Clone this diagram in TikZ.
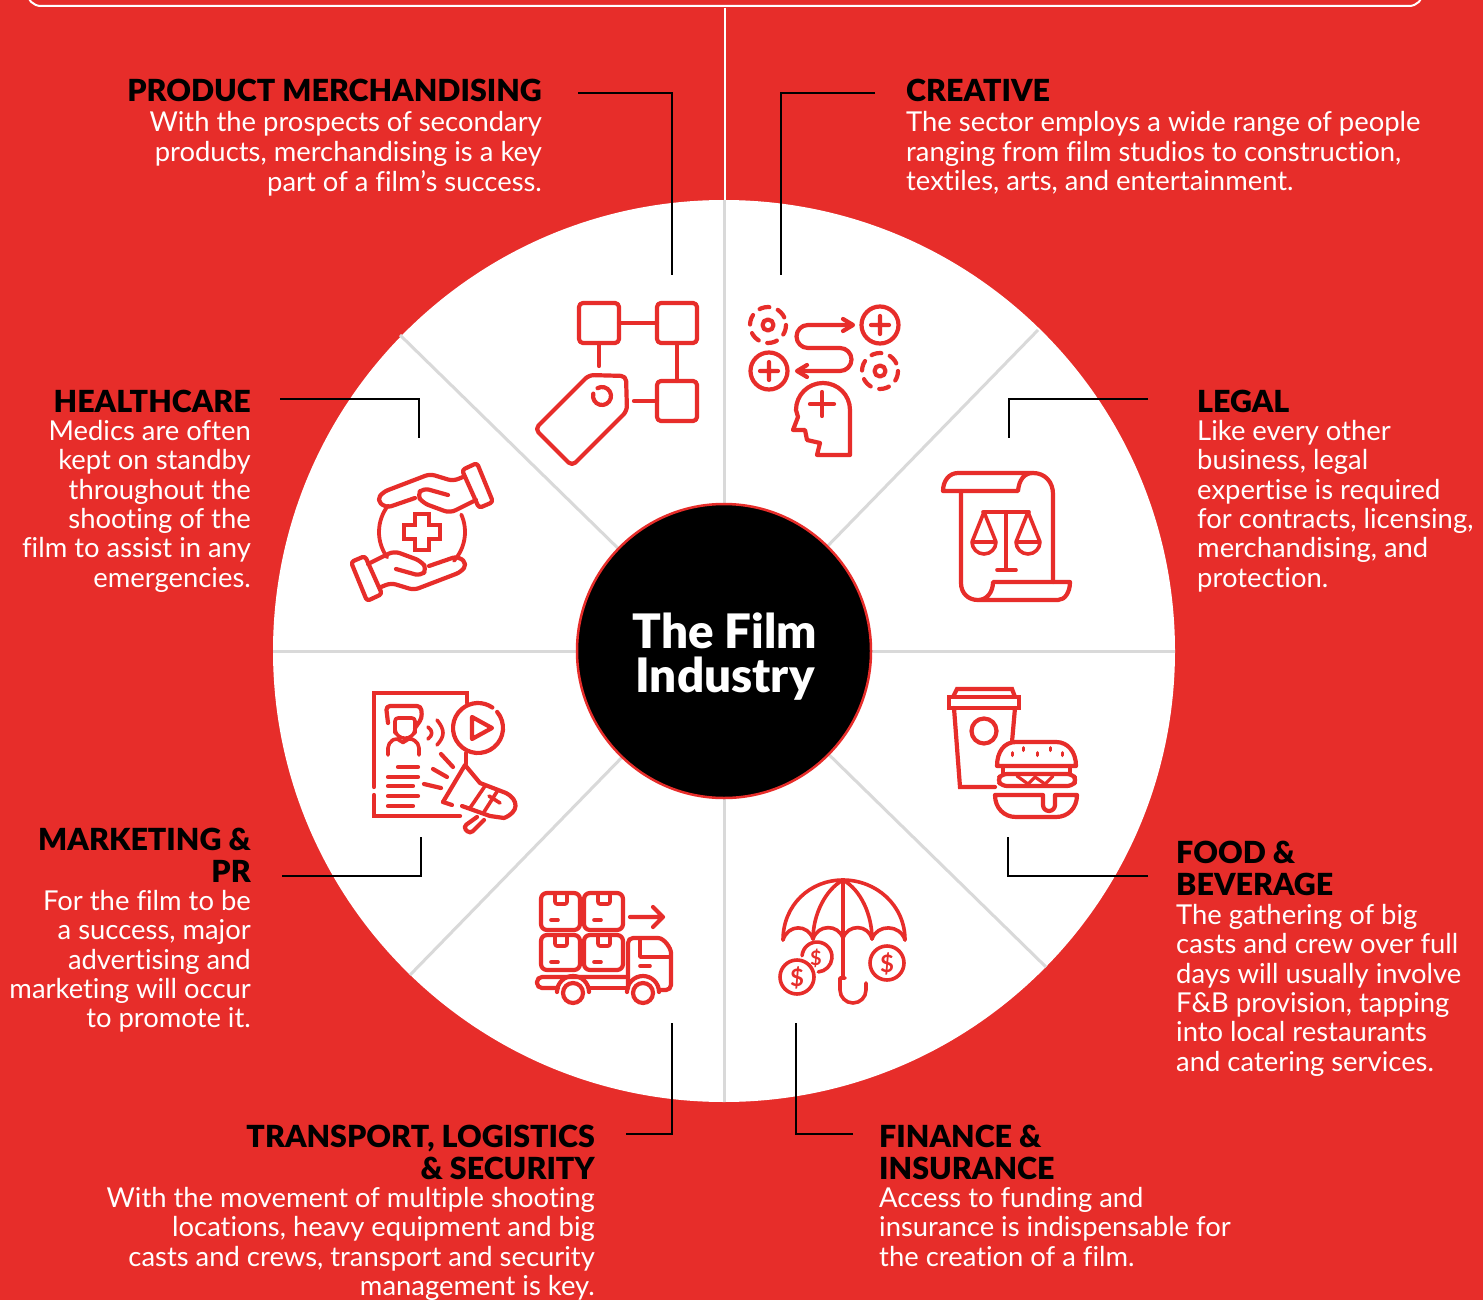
\documentclass[tikz,border=0pt]{standalone}
\usepackage{fontspec}
\setmainfont{Lato}[Ligatures=NoCommon]
\newfontfamily\heavyfont{Lato Black}[Ligatures=NoCommon]
\definecolor{filmred}{HTML}{E72D2A}
\definecolor{divgray}{HTML}{D9D9D9}
\newcommand{\bodyfont}{\fontsize{27.4}{29.3}\selectfont}
\newcommand{\titlefont}{\heavyfont\fontsize{30.4}{32}\selectfont}
\newcommand{\rblock}[1]{\begin{tabular}[t]{@{}r@{}}#1\end{tabular}}
\newcommand{\lblock}[1]{\begin{tabular}[t]{@{}l@{}}#1\end{tabular}}
\tikzset{
  ico/.style={draw=filmred,line width=4.2pt,line cap=round,line join=round},
  leader/.style={draw=black,line width=2.5pt},
  divider/.style={draw=divgray,line width=3pt},
  ttlR/.style={anchor=base east,inner sep=0pt,text=black,font=\titlefont},
  ttlL/.style={anchor=base west,inner sep=0pt,text=black,font=\titlefont},
  txtR/.style={anchor=base east,inner sep=0pt,text=white,font=\bodyfont},
  txtL/.style={anchor=base west,inner sep=0pt,text=white,font=\bodyfont},
  hubtxt/.style={anchor=base,inner sep=0pt,text=white,font=\heavyfont\fontsize{47.5}{44}\selectfont},
  dollar/.style={inner sep=0pt,text=filmred,font=\fontsize{24}{24}\selectfont\bfseries}
}
\begin{document}
\begin{tikzpicture}[x=1pt,y=-1pt]
\useasboundingbox (0,0) rectangle (1483,1300);
\fill[filmred] (0,0) rectangle (1483,1300);
% top frame
\begin{scope}
\clip (0,0) rectangle (1483,1300);
\draw[white,line width=2pt,rounded corners=14pt] (27,-40) -- (27,6) -- (1423,6) -- (1423,-40);
\end{scope}
\draw[white,line width=2pt] (724.5,8) -- (724.5,205);
% disc
\fill[white] (724,651) circle (451);
\draw[divider] (724.5,200) -- (724.5,1102);
\draw[divider] (273,651) -- (1175,651);
\draw[divider] (400,335) -- (1046,967);
\draw[divider] (1038,330) -- (410,975);
\node[circle,draw=filmred,line width=2.5pt,fill=black,minimum size=294pt,inner sep=0pt] (hub) at (724,651) {};
\node[hubtxt] (hubA) at (725,648) {The Film};
\node[hubtxt] (hubB) at (725,692) {Industry};

% ---------- product merchandising icon
\draw[ico,rounded corners=4pt] (579,303) rectangle (619,343);
\draw[ico,rounded corners=4pt] (657,303) rectangle (697,343);
\draw[ico,rounded corners=4pt] (657,381) rectangle (697,421);
\draw[ico] (619,323) -- (657,323) (599,343) -- (599,366) (677,343) -- (677,381) (634,401) -- (657,401);
\draw[ico,rounded corners=5pt] (589,375) -- (626,376) -- (627,411) -- (572,466) -- (535,429) -- cycle;
\draw[ico] (602,396) ++(-120:9) arc[start angle=-120,end angle=195,radius=9];

% ---------- creative icon
\draw[ico,dash pattern=on 10pt off 9pt] (768,325) circle (18);
\draw[ico] (768,325) circle (5.5);
\draw[ico,dash pattern=on 10pt off 9pt] (880,371) circle (18);
\draw[ico] (880,371) circle (5.5);
\draw[ico] (880,325) circle (18.5) (871,325) -- (889,325) (880,316) -- (880,334);
\draw[ico] (769,371) circle (18.5) (760,371) -- (778,371) (769,362) -- (769,380);
\draw[ico] (851,325) -- (808,325) arc[start angle=270,end angle=90,radius=11.5] -- (840,348) arc[start angle=-90,end angle=90,radius=11.5] -- (798,371);
\draw[ico] (843,319) -- (853,325) -- (843,331);
\draw[ico] (807,365) -- (797,371) -- (807,377);
\draw[ico] (850,455) -- (850,410) arc[start angle=0,end angle=-180,radius=27] -- (798,417) -- (793,430) -- (805,430) -- (807,440) -- (820,443) -- (817,455) -- cycle;
\draw[ico] (810,404) -- (834,404) (822,392) -- (822,416);

% ---------- healthcare icon
\draw[ico,line width=3.8pt] (422,532) ++(144:43) arc[start angle=144,end angle=218,radius=43];
\draw[ico,line width=3.8pt] (422,532) ++(-24:43) arc[start angle=-24,end angle=42,radius=43];
\draw[ico,line width=3.8pt,line join=miter] (415,514) -- (429,514) -- (429,525) -- (440,525) -- (440,539) -- (429,539) -- (429,550) -- (415,550) -- (415,539) -- (404,539) -- (404,525) -- (415,525) -- cycle;
\foreach \rr in {0,180}{
\begin{scope}[rotate around={\rr:(422,532)}]
\draw[ico,rounded corners=3pt] (462,470) -- (477,463) -- (493,502) -- (479,508) -- cycle;
\draw[ico,rounded corners=5pt] (463,477) -- (453,481) -- (430,474) -- (383,492) -- (377,500) -- (386,508) -- (415,498);
\draw[ico,rounded corners=6pt] (448,495) -- (423,488) -- (417,495) -- (423,503) -- (450,513) -- (476,500);
\end{scope}}

% ---------- legal icon
\draw[ico] (943,491) -- (1018,491) .. controls (1019,480) and (1024,473) .. (1033,473) -- (958,473) .. controls (949,473) and (943,481) .. (943,491);
\draw[ico] (1033,473) .. controls (1045,473) and (1053,482) .. (1053,494) -- (1053,582);
\draw[ico] (961,491) -- (961,583) .. controls (961,593) and (968,600) .. (978,600) -- (1058,600) .. controls (1065,600) and (1070,592) .. (1070,582) -- (993,582) .. controls (993,592) and (987,600) .. (978,600);
\draw[ico,line width=3.6pt] (983,512) -- (1029,512) (1006,512) -- (1006,570) (997,570) -- (1016,570);
\draw[ico,line width=3.6pt] (972,542) -- (984,512) -- (996,542) -- cycle (972,542) arc[start angle=180,end angle=0,radius=12];
\draw[ico,line width=3.6pt] (1016,542) -- (1028,512) -- (1040,542) -- cycle (1016,542) arc[start angle=180,end angle=0,radius=12];

% ---------- marketing icon
\draw[ico,line join=miter] (467,703) -- (467,693) -- (374,693) -- (374,787);
\draw[ico,line join=miter] (374,795) -- (374,816) -- (460,816);
\draw[ico] (478,728) ++(-40:25) arc[start angle=-40,end angle=305,radius=25];
\draw[ico] (466,753) -- (466,764);
\draw[ico] (472,717) -- (492,728) -- (472,739) -- cycle;
\draw[ico,rounded corners=4pt] (388,723) -- (386,706) -- (421,706) -- (422,718) -- (415,728);
\draw[ico,line width=3.6pt,rounded corners=3pt] (395,733) -- (395,718) -- (415,718) -- (415,733);
\draw[ico,line width=3.6pt] (395,730) .. controls (397,741) and (413,741) .. (415,730);
\draw[ico,line width=3.6pt,rounded corners=5pt] (388,755) -- (388,743) -- (398,737) -- (403,745) -- (408,737) -- (419,743) -- (419,755);
\draw[ico,line width=3.6pt] (428,727) .. controls (433,731) and (433,735) .. (428,739);
\draw[ico,line width=3.6pt] (437,720) .. controls (445,730) and (445,736) .. (437,745);
\draw[ico] (398,767) -- (418,767) (388,777) -- (418,777) (388,786) -- (413,786) (388,796) -- (418,796) (388,806) -- (413,806);
\draw[ico] (441,754) -- (453,767) (433,769) -- (447,777) (424,784) -- (441,788);
\draw[ico] (443,802) -- (465,765) -- (480,783) -- (506,793) .. controls (519,800) and (519,812) .. (504,818) -- (490,816) -- (462,806);
\draw[ico] (443,802) -- (452,805);
\draw[ico,line width=3.6pt] (485,786) -- (470,808) (498,790) -- (484,812) (489,796) -- (500,803);
\draw[ico,rounded corners=4pt] (477,817) -- (463,827) -- (470,834) -- (484,820);

% ---------- food icon
\draw[ico,line join=miter] (953,697) -- (957,689) -- (1012,689) -- (1015,697);
\draw[ico,line join=miter] (949,697) rectangle (1019,708);
\draw[ico,line join=miter] (954,708) -- (960,787) -- (995,787) (1015,708) -- (1012,742);
\draw[ico] (984,731) circle (12.5);
\draw[ico] (997,766) .. controls (997,752) and (1004,742) .. (1016,742) -- (1056,742) .. controls (1068,742) and (1076,752) .. (1076,766) -- cycle;
\foreach \sx/\sy in {1012/754,1023/749,1037/754,1050/749,1062/754}
  \draw[filmred,line width=3pt,line cap=round] (\sx,\sy-1.5) -- (\sx,\sy+1.5);
\draw[ico] (1003,766) -- (1003,774) (1070,766) -- (1070,774);
\draw[ico,rounded corners=5pt] (1002,774) -- (1072,774) -- (1077,780) -- (1072,786) -- (1002,786) -- (997,780) -- cycle;
\draw[ico,line width=3.2pt] (1017,776) -- (1028,784) -- (1035,777) -- (1045,784) -- (1053,776);
\draw[ico] (995,795) -- (1043,795) -- (1043,805) arc[start angle=180,end angle=0,radius=6] -- (1055,795) -- (1077,795) .. controls (1077,808) and (1068,817) .. (1056,817) -- (1016,817) .. controls (1004,817) and (995,808) .. (995,795);

% ---------- transport icon
\foreach \bx/\by/\bh in {541/893/37,584/893/37,541/935/35,584/935/35}{
  \draw[ico,rounded corners=6pt] (\bx,\by) rectangle ++(39,\bh);
  \draw[ico,line width=3.6pt,rounded corners=2pt] (\bx+14,\by) -- (\bx+14,\by+11) -- (\bx+26,\by+11) -- (\bx+26,\by);
  \draw[ico,line width=3.6pt] (\bx+10,\by+27) -- (\bx+17,\by+27);
}
\draw[ico] (630,917) -- (663,917) (653,907) -- (663,917) -- (653,927);
\draw[ico,rounded corners=5pt] (628,988) -- (628,938) -- (653,938) .. controls (664,938) and (671,948) .. (671,958) -- (671,990) -- (660,990);
\draw[ico,line width=3.6pt] (640,938) -- (640,957) -- (670,957) (640,966) -- (650,966);
\draw[ico,rounded corners=5pt] (558,988) -- (537,988) -- (537,977) -- (628,977);
\draw[ico] (590,988) -- (628,988);
\draw[ico] (573,993) circle (10) (643,993) circle (10);
\draw[ico] (557,992) arc[start angle=180,end angle=360,radius=16];
\draw[ico] (627,992) arc[start angle=180,end angle=360,radius=16];

% ---------- finance icon
\draw[ico,line width=3.6pt] (783,940) .. controls (783,905) and (810,880) .. (843,880) .. controls (876,880) and (905,905) .. (905,940);
\draw[ico,line width=3.6pt] (783,940) .. controls (788,924) and (808,924) .. (813,939) .. controls (818,924) and (838,924) .. (843,938) .. controls (848,924) and (868,924) .. (872,939) .. controls (877,924) and (900,924) .. (905,940);
\draw[ico,line width=3.6pt] (843,880) .. controls (825,890) and (813,915) .. (813,939) (843,880) .. controls (861,890) and (872,915) .. (872,939) (843,880) -- (843,977);
\draw[ico,line width=3.6pt] (840,978) -- (845,978) (840,978) -- (840,990) arc[start angle=180,end angle=0,radius=13] -- (866,983);
\draw[ico,line width=3.6pt] (887,963) circle (17) (797,977) circle (17);
\draw[ico,line width=3.6pt] (817,957) ++(185:15) arc[start angle=185,end angle=445,radius=15];
\node[dollar] (cashA) at (887,964) {\$};
\node[dollar] (cashB) at (797,978) {\$};
\node[dollar,font=\fontsize{20}{20}\selectfont\bfseries] (cashC) at (816,958) {\$};

% ---------- connectors
\coordinate (pm1) at (578,93);  \coordinate (pm2) at (672,93);  \coordinate (pm3) at (672,275);
\coordinate (cr1) at (875,93);  \coordinate (cr2) at (781,93);  \coordinate (cr3) at (781,275);
\coordinate (he1) at (280,399); \coordinate (he2) at (419,399); \coordinate (he3) at (419,438);
\coordinate (le1) at (1148,399);\coordinate (le2) at (1009,399);\coordinate (le3) at (1009,438);
\coordinate (ma1) at (282,876); \coordinate (ma2) at (421,876); \coordinate (ma3) at (421,837);
\coordinate (fo1) at (1148,876);\coordinate (fo2) at (1008,876);\coordinate (fo3) at (1008,837);
\coordinate (tr1) at (626,1134);\coordinate (tr2) at (672,1134);\coordinate (tr3) at (672,1023);
\coordinate (fi1) at (853,1134);\coordinate (fi2) at (796,1134);\coordinate (fi3) at (796,1023);
\foreach \c in {pm,cr,he,le,ma,fo,tr,fi}
  \draw[leader] (\c1) -- (\c2) -- (\c3);

% ---------- texts
\node[ttlR] (pmT) at (542,102) {PRODUCT MERCHANDISING};
\node[txtR] (pmB) at (542,132) {\rblock{With the prospects of secondary\\products, merchandising is a key\\part of a film’s success.}};
\node[ttlL] (crT) at (906,102) {CREATIVE};
\node[txtL] (crB) at (906,132) {\lblock{The sector employs a wide range of people\\ranging from film studios to construction,\\textiles, arts, and entertainment.}};
\node[ttlR] (heT) at (251,412) {HEALTHCARE};
\node[txtR] (heB) at (251,440.5) {\rblock{Medics are often\\kept on standby\\throughout the\\shooting of the\\film to assist in any\\emergencies.}};
\node[ttlL] (leT) at (1197,412) {LEGAL};
\node[txtL] (leB) at (1197,440.5) {\lblock{Like every other\\business, legal\\expertise is required\\for contracts, licensing,\\merchandising, and\\protection.}};
\node[ttlR] (maT) at (251,850) {\rblock{MARKETING \&\\PR}};
\node[txtR] (maB) at (251,910.5) {\rblock{For the film to be\\a success, major\\advertising and\\marketing will occur\\to promote it.}};
\node[ttlL] (foT) at (1176,863) {\lblock{FOOD \&\\BEVERAGE}};
\node[txtL] (foB) at (1176,924.5) {\lblock{The gathering of big\\casts and crew over full\\days will usually involve\\F\&B provision, tapping\\into local restaurants\\and catering services.}};
\node[ttlR] (trT) at (595,1147) {\rblock{TRANSPORT, LOGISTICS\\\& SECURITY}};
\node[txtR] (trB) at (595,1207.5) {\rblock{With the movement of multiple shooting\\locations, heavy equipment and big\\casts and crews, transport and security\\management is key.}};
\node[ttlL] (fiT) at (879,1147) {\lblock{FINANCE \&\\INSURANCE}};
\node[txtL] (fiB) at (879,1207.5) {\lblock{Access to funding and\\insurance is indispensable for\\the creation of a film.}};
\end{tikzpicture}
\end{document}
